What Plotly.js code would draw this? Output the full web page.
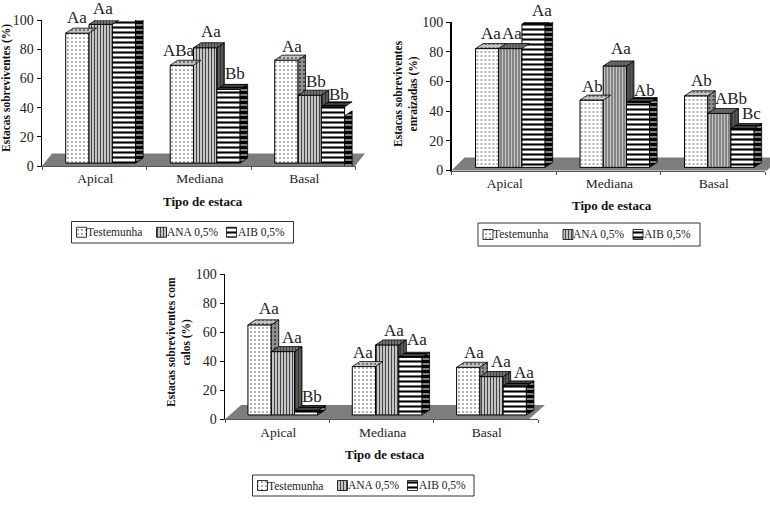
<!DOCTYPE html>
<html><head><meta charset="utf-8">
<script src="https://cdn.plot.ly/plotly-3.0.1.min.js"></script>
<style>html,body{margin:0;padding:0;background:#fff}</style></head>
<body><div id="chart" style="width:770px;height:505px"></div>
<script>
// ---- data ----
const categories = ['Apical','Mediana','Basal'];
const seriesNames = ['Testemunha','ANA 0,5%','AIB 0,5%'];
const yTicks = [0,20,40,60,80,100];

const survivingControl = [89,67,70.5];
const survivingANA     = [95,79,46.5];
const survivingAIB     = [100,50.5,38.5];
const survivingLabels  = [['Aa','ABa','Aa'],['Aa','Aa','Bb'],['Aa','Bb','Bb']];

const rootedControl = [80,45.3,48.2];
const rootedANA     = [80,68.3,36.3];
const rootedAIB     = [96.4,43.7,26.2];
const rootedLabels  = [['Aa','Ab','Ab'],['Aa','Aa','ABb'],['Aa','Ab','Bc']];

const callusControl = [62,33.3,32.8];
const callusANA     = [43.6,48.2,26.4];
const callusAIB     = [3,39.7,20];
const callusLabels  = [['Aa','Aa','Aa'],['Aa','Aa','Aa'],['Bb','Aa','Aa']];

// ---- layout of the three panels, in page pixels ----
const W = 770, H = 505;
const panels = [
 {vals:[survivingControl,survivingANA,survivingAIB], labels:survivingLabels,
  left:42, right:355.5, top:20, bottom:166, base:2, start:-0.273, w:0.223, floorDx:10, floorDy:12.5, floorBackRight:365,
  title:'Estacas sobreviventes (%)', titleX:7, titleY:88, xTitleX:203, xTitleY:201, legX:71.5, legY:221.5, legW:222, legH:21.5,
  nudgeX:[[0,-3,6],[2,6,6],[5,7,6]], gap:[[9,8,7],[9,10,7],[4,9,6]], dropLast:9},
 {vals:[rootedControl,rootedANA,rootedAIB], labels:rootedLabels,
  left:451.5, right:765, top:22, bottom:170.5, base:2.1, start:-0.27, w:0.222, floorDx:13, floorDy:13, floorBackRight:780,
  title:'Estacas sobreviventes<br>enraizadas (%)', titleX:406, titleY:93, xTitleX:612, xTitleY:205, legX:478, legY:223, legW:222, legH:23,
  nudgeX:[[4,1,5],[2,6,12],[8,6,9]], gap:[[9,7,9],[9,10.7,8],[7,5,8]], dropLast:0},
 {vals:[callusControl,callusANA,callusAIB], labels:callusLabels,
  left:225, right:538, top:274, bottom:419.3, base:3, start:-0.28, w:0.223, floorDx:16, floorDy:14.3, floorBackRight:545,
  title:'Estacas sobreviventes com<br>calos (%)', titleX:179, titleY:342, xTitleX:385, xTitleY:454, legX:252.5, legY:475, legW:221.5, legH:21,
  nudgeX:[[9,-1,6],[9,7,9],[6,7,9]], gap:[[10,8,8],[8,8,9],[8,11,7]], dropLast:0}
];
const legendSwatchX = [5, 85, 155];
const legendTextX   = [13, 93, 164];
const swatchSize = 10;
const depthX = 7.5, depthY = 5;
const serif = '"Liberation Serif", "Times New Roman", serif';

const barPattern = [
 {shape:'.', bgcolor:'#ffffff', fgcolor:'#444444', size:4, solidity:0.12},
 {shape:'|', bgcolor:'#eeeeee', fgcolor:'#444444', size:3, solidity:0.5},
 {shape:'-', bgcolor:'#ffffff', fgcolor:'#000000', size:5, solidity:0.42}
];
const topPattern = [
 {shape:'.', bgcolor:'#c4c4c4', fgcolor:'#555555', size:4, solidity:0.2},
 {shape:'|', bgcolor:'#777777', fgcolor:'#444444', size:3, solidity:0.4},
 {shape:'-', bgcolor:'#666666', fgcolor:'#000000', size:3, solidity:0.6}
];
const sidePattern = [
 {shape:'.', bgcolor:'#909090', fgcolor:'#333333', size:4, solidity:0.2},
 {shape:'|', bgcolor:'#5c5c5c', fgcolor:'#333333', size:3, solidity:0.4},
 {shape:'-', bgcolor:'#808080', fgcolor:'#000000', size:5, solidity:0.6}
];

const traces = [], annotations = [], shapes = [];
const layout = {
 width:W, height:H, margin:{l:0,r:0,t:0,b:0}, paper_bgcolor:'#fff', plot_bgcolor:'rgba(0,0,0,0)',
 barmode:'overlay', showlegend:false, font:{family:serif,size:13,color:'#222'}, hovermode:false
};
const px = v => v/W, py = v => 1 - v/H;
const catPos = categories.map((c,i)=>i);

panels.forEach((p,pi) => {
 const sfx = pi ? String(pi+1) : '';
 const xa = 'x'+sfx, ya = 'y'+sfx;
 const catW = (p.right-p.left)/3, uy = 100/(p.bottom-p.top);
 const ddx = depthX/catW, ddy = depthY*uy;

 layout['xaxis'+sfx] = {domain:[px(p.left),px(p.right)], anchor:ya, type:'linear', range:[-0.5,2.5],
   tickmode:'array', tickvals:catPos, ticktext:categories, ticks:'', ticklabelshift:1,
   minor:{tickmode:'array', tickvals:[-0.5,0.5,1.5,2.5], ticks:'outside', ticklen:3, tickcolor:'#555', showgrid:false},
   showline:true, linecolor:'#555', linewidth:1, showgrid:false, zeroline:false, fixedrange:true,
   tickfont:{family:serif,size:13.5,color:'#222'}};
 layout['yaxis'+sfx] = {domain:[py(p.bottom),py(p.top)], anchor:xa, range:[0,100], tickmode:'array', tickvals:yTicks,
   ticks:'outside', ticklen:4, tickcolor:'#000', showline:true, linecolor:'#000', linewidth:1.5, showgrid:false,
   zeroline:false, fixedrange:true, tickfont:{family:serif,size:14,color:'#222'}};

 // floor
 const fx = v => px(v).toFixed(5), fy = v => py(v).toFixed(5);
 shapes.push({type:'path', xref:'paper', yref:'paper', layer:'below', fillcolor:'#7d7d7d', line:{width:0},
   path:`M${fx(p.left)} ${fy(p.bottom)}L${fx(p.left+p.floorDx)} ${fy(p.bottom-p.floorDy)}L${fx(p.floorBackRight)} ${fy(p.bottom-p.floorDy)}L${fx(p.floorBackRight-(p.floorDx))} ${fy(p.bottom)}Z`});

 p.vals.forEach((v,si) => {
  traces.push({type:'bar', name:seriesNames[si], x:catPos, y:v, base:catPos.map(()=>p.base),
    offset:p.start+si*p.w, width:p.w, xaxis:xa, yaxis:ya, cliponaxis:false,
    marker:{color:barPattern[si].bgcolor, pattern:barPattern[si], line:{color:'#000',width:1}}});
 });

 const face = (fxs,fys,pat,xr,yr) => traces.push({type:'scatter', mode:'lines', x:fxs, y:fys, xaxis:xr, yaxis:yr,
     fill:'toself', fillcolor:pat.bgcolor, fillpattern:pat, line:{color:'#000',width:0.8}, showlegend:false,
     cliponaxis:false, hoverinfo:'skip'});

 catPos.forEach((c,ci) => {
  p.vals.forEach((v,si) => {
   const xl = c+p.start+si*p.w, xr = xl+p.w, top = p.base+v[ci], bot = p.base;
   const next = si<2 ? p.base+p.vals[si+1][ci] : null;
   // side face, cut off where the next bar hides it
   const drop = (ci===2 && si===2) ? p.dropLast*uy : 0;
   let sx, sy;
   if (next===null) {
     sx=[xr,xr,xr+ddx,xr+ddx,xr]; sy=[bot-drop,top-drop,top+ddy-drop,bot+ddy-drop,bot-drop];
   } else if (top>next) {
     const low = Math.max(next,bot+ddy);
     sx=[xr,xr,xr+ddx,xr+ddx,xr]; sy=[next,top,top+ddy,low,next];
   }
   if (sx) face(sx,sy,sidePattern[si],xa,ya);
   face([xl,xl+ddx,xr+ddx,xr,xl],[top,top+ddy,top+ddy,top,top],topPattern[si],xa,ya);
   annotations.push({xref:xa, yref:ya, x:xl+p.w/2, y:top, text:p.labels[si][ci], showarrow:false,
     xanchor:'center', yanchor:'bottom', xshift:p.nudgeX[si][ci], yshift:p.gap[si][ci]-4,
     font:{family:serif,size:17,color:'#222'}, borderpad:0});
  });
 });

 annotations.push({xref:'paper',yref:'paper',x:px(p.titleX),y:py(p.titleY),text:'<b>'+p.title+'</b>',textangle:-90,
   showarrow:false,xanchor:'center',yanchor:'middle',font:{family:serif,size:11.5,color:'#111'}});
 annotations.push({xref:'paper',yref:'paper',x:px(p.xTitleX),y:py(p.xTitleY),text:'<b>Tipo de estaca</b>',
   showarrow:false,xanchor:'center',yanchor:'middle',font:{family:serif,size:13,color:'#111'}});

 // legend box, swatches and names
 shapes.push({type:'rect', xref:'paper', yref:'paper', layer:'below', x0:px(p.legX), x1:px(p.legX+p.legW), y0:py(p.legY), y1:py(p.legY+p.legH),
   fillcolor:'#fff', line:{color:'#333',width:1}});
 seriesNames.forEach((n,si) => {
   const sx0 = p.legX+legendSwatchX[si], sy0 = p.legY+(p.legH-swatchSize)/2;
   face([sx0,sx0+swatchSize,sx0+swatchSize,sx0,sx0],[sy0,sy0,sy0+swatchSize,sy0+swatchSize,sy0],barPattern[si],'x4','y4');
   annotations.push({xref:'paper',yref:'paper',x:px(p.legX+legendTextX[si]),y:py(p.legY+p.legH/2),text:n,showarrow:false,
     xanchor:'left',yanchor:'middle',font:{family:serif,size:11.5,color:'#222'}});
 });
});
// page-sized overlay scale used by the legend swatches
layout.xaxis4 = {domain:[0,1], range:[0,W], visible:false, fixedrange:true, anchor:'y4'};
layout.yaxis4 = {domain:[0,1], range:[H,0], visible:false, fixedrange:true, anchor:'x4'};
layout.shapes = shapes;
layout.annotations = annotations;
Plotly.newPlot('chart', traces, layout, {displayModeBar:false, staticPlot:true});
</script></body></html>
